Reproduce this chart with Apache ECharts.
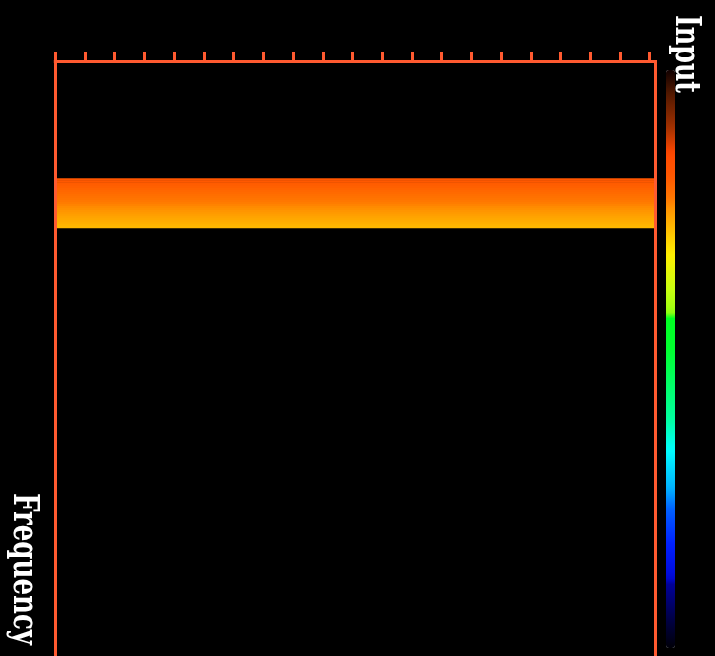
<!DOCTYPE html>
<html>
<head>
<meta charset="utf-8">
<script src="https://cdn.jsdelivr.net/npm/echarts@6/dist/echarts.min.js"></script>
<style>
  html, body { margin: 0; padding: 0; background: #000; }
  #chart { width: 715px; height: 656px; }
</style>
</head>
<body>
<div id="chart"></div>
<script>
// Time frames across the horizontal axis (one wide frame)
const timeFrames = ['frame'];
// Frequency bins down the vertical axis
const binCount = 300;
const frequencyBins = Array.from({ length: binCount }, (_, i) => i);
// First bin of the active band, and its input level per bin (top to bottom)
const bandStartBin = 59;
const bandValues = [82.0, 81.6, 81.2, 80.9, 80.5, 80.1, 79.7, 79.3, 78.9, 78.6,
                    78.2, 77.8, 77.4, 77.0, 76.6, 76.3, 75.9, 75.5, 75.1, 74.7,
                    74.3, 74.0, 73.6, 73.2, 72.8];
// Top axis ticks
const tickValues = [0, 1, 2, 3, 4, 5, 6, 7, 8, 9, 10, 11, 12, 13, 14, 15, 16, 17, 18, 19, 20];
const axisMax = 20.18;
// Input scale
const inputMin = 0;
const inputMax = 100;

const AXIS = '#ff5a30';

// Colour scale stops (position from low to high, colour)
const colorStops = [
  [0.000, '#000008'], [0.050, '#000045'], [0.115, '#0000a0'], [0.120, '#0008d8'],
  [0.180, '#0020ff'], [0.240, '#0060ff'], [0.275, '#00b0ff'], [0.343, '#00ffff'],
  [0.395, '#00ffa0'], [0.515, '#00ff30'], [0.576, '#00ff20'], [0.579, '#98ff10'],
  [0.620, '#c8ff10'], [0.680, '#fff000'], [0.763, '#ff9000'], [0.775, '#ff7a00'],
  [0.815, '#ff5800'], [0.856, '#ff4800'], [0.901, '#a03000'], [0.960, '#501800'],
  [1.000, '#100000']
];

function hexRgb(h) {
  return [parseInt(h.slice(1, 3), 16), parseInt(h.slice(3, 5), 16), parseInt(h.slice(5, 7), 16)];
}
function sampleScale(n) {
  const out = [];
  for (let k = 0; k < n; k++) {
    const t = k / (n - 1);
    let j = 0;
    while (j < colorStops.length - 2 && colorStops[j + 1][0] < t) j++;
    const [t0, c0] = colorStops[j];
    const [t1, c1] = colorStops[j + 1];
    const f = t1 > t0 ? Math.min(1, Math.max(0, (t - t0) / (t1 - t0))) : 0;
    const a = hexRgb(c0), b = hexRgb(c1);
    const rgb = a.map((v, i) => Math.round(v + (b[i] - v) * f));
    out.push('rgb(' + rgb.join(',') + ')');
  }
  return out;
}

const heatData = bandValues.map((v, i) => [0, bandStartBin + i, v]);

// Fit a rotated label's reading length to a given span
const measureCtx = document.createElement('canvas').getContext('2d');
const LABEL_FONT = 'bold 36px "DejaVu Serif"';
function fitScale(text, span) {
  measureCtx.font = LABEL_FONT;
  return span / measureCtx.measureText(text).width;
}

const chart = echarts.init(document.getElementById('chart'), null, { renderer: 'canvas' });

chart.setOption({
  backgroundColor: '#000',
  animation: false,
  grid: { left: 55.3, top: 61.5, width: 599.7, height: 600, show: false },
  xAxis: [
    { type: 'category', data: timeFrames, position: 'top', show: false },
    {
      type: 'value', position: 'top', min: 0, max: axisMax, interval: 1, z: 10,
      axisLine: { show: true, lineStyle: { color: AXIS, width: 3, cap: 'square' } },
      axisTick: { show: true, customValues: tickValues, length: 9.5, lineStyle: { color: AXIS, width: 3 } },
      axisLabel: { show: false },
      splitLine: { show: false }
    }
  ],
  yAxis: [
    {
      type: 'category', data: frequencyBins, inverse: true, position: 'left', z: 10,
      axisLine: { show: true, lineStyle: { color: AXIS, width: 3, cap: 'square' } },
      axisTick: { show: false }, axisLabel: { show: false }, splitLine: { show: false }
    },
    {
      type: 'value', position: 'right', min: 0, max: 1, z: 10,
      axisLine: { show: true, lineStyle: { color: AXIS, width: 3, cap: 'square' } },
      axisTick: { show: false }, axisLabel: { show: false }, splitLine: { show: false }
    }
  ],
  visualMap: {
    type: 'continuous', min: inputMin, max: inputMax, seriesIndex: 0,
    calculable: false, hoverLink: false, orient: 'vertical',
    left: 666, top: 70, padding: 0, itemWidth: 9, itemHeight: 578,
    inRange: { color: sampleScale(256) }
  },
  series: [{
    type: 'heatmap', xAxisIndex: 0, yAxisIndex: 0,
    data: heatData, progressive: 0,
    itemStyle: { borderWidth: 0 },
    emphasis: { disabled: true }
  }],
  graphic: [
    {
      type: 'text', x: 685.7, y: 15, rotation: -Math.PI / 2,
      scaleX: fitScale('Input', 78), scaleY: 1,
      style: { text: 'Input', font: LABEL_FONT, fill: '#ffffff',
               align: 'left', verticalAlign: 'middle', textAlign: 'left', textVerticalAlign: 'middle' }
    },
    {
      type: 'text', x: 23.7, y: 493, rotation: -Math.PI / 2,
      scaleX: fitScale('Frequency', 152), scaleY: 1,
      style: { text: 'Frequency', font: LABEL_FONT, fill: '#ffffff',
               align: 'left', verticalAlign: 'middle', textAlign: 'left', textVerticalAlign: 'middle' }
    }
  ]
});
</script>
</body>
</html>
